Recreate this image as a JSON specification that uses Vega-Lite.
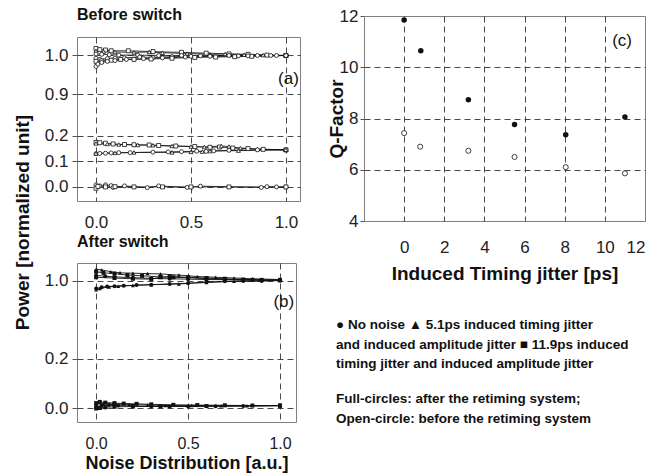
{
"$schema": "https://vega.github.io/schema/vega-lite/v6.json",
"autosize": {"type": "pad"},
"padding": {"left": 12, "top": 6, "right": 0, "bottom": 0},
"spacing": 25,
"config": {
  "font": "Liberation Sans",
  "view": {"stroke": "#808080"},
  "axis": {"domain": false, "labelFont": "Liberation Sans", "labelColor": "#222", "labelFontSize": 17, "labelOverlap": false,
    "titleFont": "Liberation Sans", "titleFontWeight": "bold", "titleFontSize": 19, "titleColor": "#111",
    "grid": true, "gridColor": "#333", "gridDash": [6, 4], "gridWidth": 0.9, "tickColor": "#555"},
  "title": {"font": "Liberation Sans", "color": "#111"}
},
"datasets": {
  "L": [
    {"p":"a","s":"a1","m":"square","x":0,"y":1.018},{"p":"a","s":"a1","m":"square","x":0.02,"y":1.015},{"p":"a","s":"a1","m":"square","x":0.05,"y":1.014},{"p":"a","s":"a1","m":"square","x":0.08,"y":1.012},{"p":"a","s":"a1","m":"square","x":0.17,"y":1.012},{"p":"a","s":"a1","m":"square","x":0.3,"y":1.01},{"p":"a","s":"a1","m":"square","x":0.45,"y":1.008},{"p":"a","s":"a1","m":"square","x":0.58,"y":1.006},{"p":"a","s":"a1","m":"square","x":0.7,"y":1.004},{"p":"a","s":"a1","m":"square","x":0.8,"y":1.003},{"p":"a","s":"a1","m":"square","x":0.9,"y":1.001},{"p":"a","s":"a1","m":"square","x":1,"y":1.0},
    {"p":"a","s":"a2","m":"triangle","x":0,"y":1.012},{"p":"a","s":"a2","m":"triangle","x":0.04,"y":1.01},{"p":"a","s":"a2","m":"triangle","x":0.1,"y":1.009},{"p":"a","s":"a2","m":"triangle","x":0.2,"y":1.008},{"p":"a","s":"a2","m":"triangle","x":0.28,"y":1.009},{"p":"a","s":"a2","m":"triangle","x":0.35,"y":1.007},{"p":"a","s":"a2","m":"triangle","x":0.48,"y":1.005},{"p":"a","s":"a2","m":"triangle","x":0.6,"y":1.003},{"p":"a","s":"a2","m":"triangle","x":0.68,"y":1.004},{"p":"a","s":"a2","m":"triangle","x":0.78,"y":1.002},{"p":"a","s":"a2","m":"triangle","x":0.88,"y":1.001},{"p":"a","s":"a2","m":"triangle","x":1,"y":1.0},
    {"p":"a","s":"a3","m":"circle","x":0,"y":1.004},{"p":"a","s":"a3","m":"circle","x":0.03,"y":1.003},{"p":"a","s":"a3","m":"circle","x":0.07,"y":1.002},{"p":"a","s":"a3","m":"circle","x":0.12,"y":1.001},{"p":"a","s":"a3","m":"circle","x":0.22,"y":1.001},{"p":"a","s":"a3","m":"circle","x":0.33,"y":1.0},{"p":"a","s":"a3","m":"circle","x":0.45,"y":1.0},{"p":"a","s":"a3","m":"circle","x":0.55,"y":0.999},{"p":"a","s":"a3","m":"circle","x":0.7,"y":1.0},{"p":"a","s":"a3","m":"circle","x":0.85,"y":1.0},{"p":"a","s":"a3","m":"circle","x":0.92,"y":1.0},{"p":"a","s":"a3","m":"circle","x":0.95,"y":1.0},{"p":"a","s":"a3","m":"circle","x":1,"y":1.0},
    {"p":"a","s":"a4","m":"circle","x":0,"y":0.993},{"p":"a","s":"a4","m":"circle","x":0.02,"y":0.99},{"p":"a","s":"a4","m":"circle","x":0.06,"y":0.992},{"p":"a","s":"a4","m":"circle","x":0.1,"y":0.993},{"p":"a","s":"a4","m":"circle","x":0.15,"y":0.994},{"p":"a","s":"a4","m":"circle","x":0.23,"y":0.996},{"p":"a","s":"a4","m":"circle","x":0.3,"y":0.995},{"p":"a","s":"a4","m":"circle","x":0.4,"y":0.997},{"p":"a","s":"a4","m":"circle","x":0.5,"y":0.998},{"p":"a","s":"a4","m":"circle","x":0.6,"y":0.999},{"p":"a","s":"a4","m":"circle","x":0.75,"y":0.999},{"p":"a","s":"a4","m":"circle","x":1,"y":1.0},
    {"p":"a","s":"a5","m":"square","x":0,"y":0.985},{"p":"a","s":"a5","m":"square","x":0.03,"y":0.986},{"p":"a","s":"a5","m":"square","x":0.08,"y":0.988},{"p":"a","s":"a5","m":"square","x":0.13,"y":0.99},{"p":"a","s":"a5","m":"square","x":0.2,"y":0.99},{"p":"a","s":"a5","m":"square","x":0.29,"y":0.991},{"p":"a","s":"a5","m":"square","x":0.4,"y":0.993},{"p":"a","s":"a5","m":"square","x":0.52,"y":0.995},{"p":"a","s":"a5","m":"square","x":0.63,"y":0.996},{"p":"a","s":"a5","m":"square","x":0.73,"y":0.997},{"p":"a","s":"a5","m":"square","x":0.82,"y":0.998},{"p":"a","s":"a5","m":"square","x":1,"y":1.0},
    {"p":"a","s":"a6","m":"circle","x":0,"y":0.972},{"p":"a","s":"a6","m":"circle","x":0.01,"y":0.978},{"p":"a","s":"a6","m":"circle","x":0.03,"y":0.982},{"p":"a","s":"a6","m":"circle","x":0.06,"y":0.985},{"p":"a","s":"a6","m":"circle","x":0.1,"y":0.987},{"p":"a","s":"a6","m":"circle","x":0.16,"y":0.99},{"p":"a","s":"a6","m":"circle","x":0.25,"y":0.992},{"p":"a","s":"a6","m":"circle","x":0.35,"y":0.994},{"p":"a","s":"a6","m":"circle","x":0.47,"y":0.996},{"p":"a","s":"a6","m":"circle","x":0.6,"y":0.998},{"p":"a","s":"a6","m":"circle","x":0.8,"y":0.999},{"p":"a","s":"a6","m":"circle","x":1,"y":1.0},
    {"p":"a","s":"a7","m":"square","x":0,"y":0.174},{"p":"a","s":"a7","m":"square","x":0.02,"y":0.173},{"p":"a","s":"a7","m":"square","x":0.05,"y":0.171},{"p":"a","s":"a7","m":"square","x":0.09,"y":0.168},{"p":"a","s":"a7","m":"square","x":0.15,"y":0.166},{"p":"a","s":"a7","m":"square","x":0.2,"y":0.165},{"p":"a","s":"a7","m":"square","x":0.28,"y":0.164},{"p":"a","s":"a7","m":"square","x":0.33,"y":0.162},{"p":"a","s":"a7","m":"square","x":0.42,"y":0.16},{"p":"a","s":"a7","m":"square","x":0.52,"y":0.158},{"p":"a","s":"a7","m":"square","x":0.6,"y":0.155},{"p":"a","s":"a7","m":"square","x":0.65,"y":0.156},{"p":"a","s":"a7","m":"square","x":0.72,"y":0.152},{"p":"a","s":"a7","m":"square","x":0.8,"y":0.15},{"p":"a","s":"a7","m":"square","x":0.88,"y":0.147},{"p":"a","s":"a7","m":"square","x":1,"y":0.145},
    {"p":"a","s":"a8","m":"triangle","x":0,"y":0.17},{"p":"a","s":"a8","m":"triangle","x":0.06,"y":0.168},{"p":"a","s":"a8","m":"triangle","x":0.12,"y":0.166},{"p":"a","s":"a8","m":"triangle","x":0.22,"y":0.164},{"p":"a","s":"a8","m":"triangle","x":0.3,"y":0.163},{"p":"a","s":"a8","m":"triangle","x":0.4,"y":0.16},{"p":"a","s":"a8","m":"triangle","x":0.5,"y":0.158},{"p":"a","s":"a8","m":"triangle","x":0.57,"y":0.156},{"p":"a","s":"a8","m":"triangle","x":0.66,"y":0.16},{"p":"a","s":"a8","m":"triangle","x":0.7,"y":0.158},{"p":"a","s":"a8","m":"triangle","x":0.76,"y":0.152},{"p":"a","s":"a8","m":"triangle","x":0.85,"y":0.148},{"p":"a","s":"a8","m":"triangle","x":1,"y":0.145},
    {"p":"a","s":"a9","m":"circle","x":0,"y":0.13},{"p":"a","s":"a9","m":"circle","x":0.02,"y":0.131},{"p":"a","s":"a9","m":"circle","x":0.05,"y":0.132},{"p":"a","s":"a9","m":"circle","x":0.08,"y":0.133},{"p":"a","s":"a9","m":"circle","x":0.12,"y":0.134},{"p":"a","s":"a9","m":"circle","x":0.18,"y":0.134},{"p":"a","s":"a9","m":"circle","x":0.3,"y":0.136},{"p":"a","s":"a9","m":"circle","x":0.38,"y":0.137},{"p":"a","s":"a9","m":"circle","x":0.45,"y":0.138},{"p":"a","s":"a9","m":"circle","x":0.53,"y":0.14},{"p":"a","s":"a9","m":"circle","x":0.58,"y":0.139},{"p":"a","s":"a9","m":"circle","x":0.62,"y":0.141},{"p":"a","s":"a9","m":"circle","x":0.7,"y":0.143},{"p":"a","s":"a9","m":"circle","x":0.85,"y":0.145},{"p":"a","s":"a9","m":"circle","x":1,"y":0.145},
    {"p":"a","s":"a10","m":"triangle","x":0,"y":0.13},{"p":"a","s":"a10","m":"triangle","x":0.1,"y":0.133},{"p":"a","s":"a10","m":"triangle","x":0.2,"y":0.135},{"p":"a","s":"a10","m":"triangle","x":0.4,"y":0.135},{"p":"a","s":"a10","m":"triangle","x":0.5,"y":0.137},{"p":"a","s":"a10","m":"triangle","x":0.56,"y":0.138},{"p":"a","s":"a10","m":"triangle","x":0.6,"y":0.14},{"p":"a","s":"a10","m":"triangle","x":0.75,"y":0.142},{"p":"a","s":"a10","m":"triangle","x":1,"y":0.145},
    {"p":"a","s":"a11","m":"circle","x":0,"y":0.008},{"p":"a","s":"a11","m":"circle","x":0.02,"y":0.004},{"p":"a","s":"a11","m":"circle","x":0.05,"y":0.008},{"p":"a","s":"a11","m":"circle","x":0.08,"y":0.005},{"p":"a","s":"a11","m":"circle","x":0.09,"y":-0.002},{"p":"a","s":"a11","m":"circle","x":0.15,"y":0.004},{"p":"a","s":"a11","m":"circle","x":0.27,"y":-0.003},{"p":"a","s":"a11","m":"circle","x":0.33,"y":0.004},{"p":"a","s":"a11","m":"circle","x":0.48,"y":-0.002},{"p":"a","s":"a11","m":"circle","x":0.55,"y":0.003},{"p":"a","s":"a11","m":"circle","x":0.87,"y":-0.002},{"p":"a","s":"a11","m":"circle","x":0.9,"y":0.001},{"p":"a","s":"a11","m":"circle","x":0.95,"y":0.0},{"p":"a","s":"a11","m":"circle","x":1,"y":0.0},
    {"p":"a","s":"a12","m":"square","x":0,"y":-0.005},{"p":"a","s":"a12","m":"square","x":0.01,"y":0.002},{"p":"a","s":"a12","m":"square","x":0.05,"y":0.0},{"p":"a","s":"a12","m":"square","x":0.1,"y":0.001},{"p":"a","s":"a12","m":"square","x":0.2,"y":0.0},{"p":"a","s":"a12","m":"square","x":0.35,"y":0.0},{"p":"a","s":"a12","m":"square","x":0.5,"y":0.0},{"p":"a","s":"a12","m":"square","x":0.7,"y":0.0},{"p":"a","s":"a12","m":"square","x":1,"y":0.0},
    {"p":"b","s":"b1","m":"triangle","x":0,"y":1.032},{"p":"b","s":"b1","m":"triangle","x":0.03,"y":1.03},{"p":"b","s":"b1","m":"triangle","x":0.08,"y":1.025},{"p":"b","s":"b1","m":"triangle","x":0.13,"y":1.022},{"p":"b","s":"b1","m":"triangle","x":0.2,"y":1.021},{"p":"b","s":"b1","m":"triangle","x":0.28,"y":1.02},{"p":"b","s":"b1","m":"triangle","x":0.35,"y":1.019},{"p":"b","s":"b1","m":"triangle","x":0.45,"y":1.016},{"p":"b","s":"b1","m":"triangle","x":0.55,"y":1.012},{"p":"b","s":"b1","m":"triangle","x":0.65,"y":1.01},{"p":"b","s":"b1","m":"triangle","x":0.75,"y":1.008},{"p":"b","s":"b1","m":"triangle","x":0.85,"y":1.006},{"p":"b","s":"b1","m":"triangle","x":1,"y":1.004},
    {"p":"b","s":"b2","m":"square","x":0,"y":1.025},{"p":"b","s":"b2","m":"square","x":0.04,"y":1.022},{"p":"b","s":"b2","m":"square","x":0.1,"y":1.02},{"p":"b","s":"b2","m":"square","x":0.17,"y":1.016},{"p":"b","s":"b2","m":"square","x":0.25,"y":1.014},{"p":"b","s":"b2","m":"square","x":0.35,"y":1.011},{"p":"b","s":"b2","m":"square","x":0.42,"y":1.01},{"p":"b","s":"b2","m":"square","x":0.5,"y":1.009},{"p":"b","s":"b2","m":"square","x":0.6,"y":1.008},{"p":"b","s":"b2","m":"square","x":0.7,"y":1.006},{"p":"b","s":"b2","m":"square","x":0.8,"y":1.004},{"p":"b","s":"b2","m":"square","x":0.9,"y":1.003},{"p":"b","s":"b2","m":"square","x":1,"y":1.003},
    {"p":"b","s":"b3","m":"circle","x":0,"y":1.015},{"p":"b","s":"b3","m":"circle","x":0.05,"y":1.013},{"p":"b","s":"b3","m":"circle","x":0.1,"y":1.011},{"p":"b","s":"b3","m":"circle","x":0.2,"y":1.009},{"p":"b","s":"b3","m":"circle","x":0.3,"y":1.007},{"p":"b","s":"b3","m":"circle","x":0.4,"y":1.006},{"p":"b","s":"b3","m":"circle","x":0.5,"y":1.005},{"p":"b","s":"b3","m":"circle","x":0.6,"y":1.004},{"p":"b","s":"b3","m":"circle","x":0.8,"y":1.003},{"p":"b","s":"b3","m":"circle","x":1,"y":1.002},
    {"p":"b","s":"b4","m":"square","x":0,"y":1.01},{"p":"b","s":"b4","m":"square","x":0.1,"y":1.008},{"p":"b","s":"b4","m":"square","x":0.2,"y":1.006},{"p":"b","s":"b4","m":"square","x":0.3,"y":1.005},{"p":"b","s":"b4","m":"square","x":0.35,"y":1.01},{"p":"b","s":"b4","m":"square","x":0.4,"y":1.012},{"p":"b","s":"b4","m":"square","x":0.5,"y":1.01},{"p":"b","s":"b4","m":"square","x":0.6,"y":1.006},{"p":"b","s":"b4","m":"square","x":0.7,"y":1.004},{"p":"b","s":"b4","m":"square","x":0.85,"y":1.003},{"p":"b","s":"b4","m":"square","x":1,"y":1.002},
    {"p":"b","s":"b5","m":"circle","x":0,"y":0.98},{"p":"b","s":"b5","m":"circle","x":0.03,"y":0.983},{"p":"b","s":"b5","m":"circle","x":0.06,"y":0.985},{"p":"b","s":"b5","m":"circle","x":0.1,"y":0.986},{"p":"b","s":"b5","m":"circle","x":0.15,"y":0.987},{"p":"b","s":"b5","m":"circle","x":0.22,"y":0.989},{"p":"b","s":"b5","m":"circle","x":0.3,"y":0.99},{"p":"b","s":"b5","m":"circle","x":0.4,"y":0.992},{"p":"b","s":"b5","m":"circle","x":0.5,"y":0.994},{"p":"b","s":"b5","m":"circle","x":0.6,"y":0.997},{"p":"b","s":"b5","m":"circle","x":0.7,"y":0.999},{"p":"b","s":"b5","m":"circle","x":0.8,"y":1.0},{"p":"b","s":"b5","m":"circle","x":0.9,"y":1.0},{"p":"b","s":"b5","m":"circle","x":1,"y":1.002},
    {"p":"b","s":"b6","m":"triangle","x":0,"y":0.976},{"p":"b","s":"b6","m":"triangle","x":0.02,"y":0.98},{"p":"b","s":"b6","m":"triangle","x":0.07,"y":0.984},{"p":"b","s":"b6","m":"triangle","x":0.12,"y":0.986},{"p":"b","s":"b6","m":"triangle","x":0.2,"y":0.988},{"p":"b","s":"b6","m":"triangle","x":0.3,"y":0.99},{"p":"b","s":"b6","m":"triangle","x":0.45,"y":0.992},{"p":"b","s":"b6","m":"triangle","x":0.6,"y":0.996},{"p":"b","s":"b6","m":"triangle","x":0.75,"y":0.999},{"p":"b","s":"b6","m":"triangle","x":1,"y":1.001},
    {"p":"b","s":"b7","m":"square","x":0,"y":0.02},{"p":"b","s":"b7","m":"square","x":0.02,"y":0.025},{"p":"b","s":"b7","m":"square","x":0.05,"y":0.022},{"p":"b","s":"b7","m":"square","x":0.1,"y":0.02},{"p":"b","s":"b7","m":"square","x":0.15,"y":0.018},{"p":"b","s":"b7","m":"square","x":0.22,"y":0.017},{"p":"b","s":"b7","m":"square","x":0.3,"y":0.015},{"p":"b","s":"b7","m":"square","x":0.42,"y":0.013},{"p":"b","s":"b7","m":"square","x":0.55,"y":0.012},{"p":"b","s":"b7","m":"square","x":0.7,"y":0.011},{"p":"b","s":"b7","m":"square","x":0.85,"y":0.01},{"p":"b","s":"b7","m":"square","x":1,"y":0.01},
    {"p":"b","s":"b8","m":"circle","x":0,"y":0.005},{"p":"b","s":"b8","m":"circle","x":0.03,"y":0.01},{"p":"b","s":"b8","m":"circle","x":0.07,"y":0.012},{"p":"b","s":"b8","m":"circle","x":0.12,"y":0.01},{"p":"b","s":"b8","m":"circle","x":0.2,"y":0.008},{"p":"b","s":"b8","m":"circle","x":0.3,"y":0.006},{"p":"b","s":"b8","m":"circle","x":0.4,"y":0.006},{"p":"b","s":"b8","m":"circle","x":0.5,"y":0.006},{"p":"b","s":"b8","m":"circle","x":0.65,"y":0.007},{"p":"b","s":"b8","m":"circle","x":0.8,"y":0.008},{"p":"b","s":"b8","m":"circle","x":1,"y":0.009},
    {"p":"b","s":"b9","m":"triangle","x":0,"y":0.015},{"p":"b","s":"b9","m":"triangle","x":0.04,"y":0.018},{"p":"b","s":"b9","m":"triangle","x":0.09,"y":0.016},{"p":"b","s":"b9","m":"triangle","x":0.18,"y":0.014},{"p":"b","s":"b9","m":"triangle","x":0.28,"y":0.012},{"p":"b","s":"b9","m":"triangle","x":0.38,"y":0.01},{"p":"b","s":"b9","m":"triangle","x":0.52,"y":0.01},{"p":"b","s":"b9","m":"triangle","x":0.68,"y":0.009},{"p":"b","s":"b9","m":"triangle","x":0.82,"y":0.009},{"p":"b","s":"b9","m":"triangle","x":1,"y":0.01},
    {"p":"b","s":"b10","m":"square","x":0,"y":-0.002},{"p":"b","s":"b10","m":"square","x":0.02,"y":0.0},{"p":"b","s":"b10","m":"square","x":0.05,"y":0.003},{"p":"b","s":"b10","m":"square","x":0.1,"y":0.005},{"p":"b","s":"b10","m":"square","x":0.2,"y":0.006},{"p":"b","s":"b10","m":"square","x":0.35,"y":0.007},{"p":"b","s":"b10","m":"square","x":0.6,"y":0.008},{"p":"b","s":"b10","m":"square","x":1,"y":0.01}
  ],
  "Q": [
    {"t":"after","x":0,"y":11.84},{"t":"after","x":0.83,"y":10.64},{"t":"after","x":3.2,"y":8.73},{"t":"after","x":5.5,"y":7.77},{"t":"after","x":8.05,"y":7.37},{"t":"after","x":11,"y":8.06},
    {"t":"before","x":0,"y":7.43},{"t":"before","x":0.8,"y":6.9},{"t":"before","x":3.2,"y":6.74},{"t":"before","x":5.5,"y":6.5},{"t":"before","x":8.05,"y":6.1},{"t":"before","x":11,"y":5.86}
  ]
},
"hconcat": [
  {
    "bounds": "flush",
    "spacing": 0,
    "vconcat": [
      {"width": 223, "height": 21, "view": {"stroke": null}, "data": {"values": []}, "mark": "point", "encoding": {}},
      {
        "bounds": "flush",
        "spacing": 62,
        "vconcat": [
          {
            "width": 223, "height": 164,
            "title": {"text": "Before switch", "anchor": "start", "frame": "group", "fontSize": 16, "fontWeight": "bold", "offset": 14},
            "data": {"name": "L"},
            "transform": [{"filter": "datum.p == 'a'"}],
            "layer": [
              {"mark": {"type": "line", "color": "#111", "strokeWidth": 0.8},
               "encoding": {
                 "x": {"field": "x", "type": "quantitative", "scale": {"domain": [-0.1, 1.074], "nice": false, "zero": false},
                       "axis": {"values": [0, 0.5, 1], "format": ".1f", "title": null, "ticks": false, "labelPadding": 13}},
                 "y": {"field": "y", "type": "quantitative", "scale": {"domain": [-0.055, 0.25, 0.85, 1.0474], "range": [164, 86, 77, 0], "nice": false, "zero": false},
                       "axis": {"values": [0, 0.1, 0.2, 0.9, 1.0], "format": ".1f", "tickSize": 5, "labelPadding": 4,
                                "title": "Power  [normalized unit]", "titleX": -49, "titleY": 185, "titleBaseline": "alphabetic", "titleAngle": -90, "titleAlign": "center"}},
                 "detail": {"field": "s"}}},
              {"mark": {"type": "point", "filled": true, "fill": "white", "stroke": "#111", "strokeWidth": 0.8, "size": 16, "opacity": 1},
               "encoding": {
                 "x": {"field": "x", "type": "quantitative"},
                 "y": {"field": "y", "type": "quantitative"},
                 "shape": {"field": "m", "type": "nominal", "scale": {"domain": ["circle", "triangle", "square"], "range": ["circle", "triangle-up", "square"]}, "legend": null}}},
              {"data": {"values": [{}]},
               "mark": {"type": "text", "text": "(a)", "align": "right", "baseline": "middle", "fontSize": 17, "color": "#111"},
               "encoding": {"x": {"datum": 1.068}, "y": {"datum": 0.94}}}
            ]
          },
          {
            "width": 219, "height": 159,
            "title": {"text": "After switch", "anchor": "start", "frame": "group", "fontSize": 16, "fontWeight": "bold", "offset": 13},
            "data": {"name": "L"},
            "transform": [{"filter": "datum.p == 'b'"}],
            "layer": [
              {"mark": {"type": "line", "color": "#111", "strokeWidth": 0.9},
               "encoding": {
                 "x": {"field": "x", "type": "quantitative", "scale": {"domain": [-0.104, 1.087], "nice": false, "zero": false},
                       "axis": {"values": [0, 0.5, 1], "format": ".1f", "title": "Noise Distribution [a.u.]", "ticks": false, "labelPadding": 13, "labelFontSize": 16, "titleFontSize": 18, "titlePadding": 3}},
                 "y": {"field": "y", "type": "quantitative", "scale": {"domain": [-0.057, 0.265, 0.846, 1.0486], "range": [159, 80, 75, 0], "nice": false, "zero": false},
                       "axis": {"values": [0, 0.1, 0.2, 0.9, 1.0], "format": ".1f", "tickSize": 5, "labelPadding": 4, "title": null}},
                 "detail": {"field": "s"}}},
              {"mark": {"type": "point", "filled": true, "color": "#111", "size": 16, "opacity": 1},
               "encoding": {
                 "x": {"field": "x", "type": "quantitative"},
                 "y": {"field": "y", "type": "quantitative"},
                 "shape": {"field": "m", "type": "nominal", "scale": {"domain": ["circle", "triangle", "square"], "range": ["circle", "triangle-up", "square"]}, "legend": null}}},
              {"data": {"values": [{}]},
               "mark": {"type": "text", "text": "(b)", "align": "right", "baseline": "middle", "fontSize": 17, "color": "#111"},
               "encoding": {"x": {"datum": 1.077}, "y": {"datum": 0.942}}}
            ]
          }
        ]
      }
    ]
  },
  {
    "width": 281, "height": 205,
    "title": {
      "text": ["● No noise ▲ 5.1ps induced timing jitter", "and induced amplitude jitter  ■ 11.9ps induced", "timing jitter and induced amplitude jitter"],
      "subtitle": ["Full-circles: after the retiming system;", "Open-circle: before the retiming system"],
      "orient": "bottom", "anchor": "start", "frame": "group", "dx": -28, "offset": 35,
      "fontSize": 13.5, "fontWeight": "bold", "color": "#111", "lineHeight": 19.5,
      "subtitleFont": "Liberation Sans", "subtitleFontSize": 13.5, "subtitleFontWeight": "bold", "subtitleColor": "#111",
      "subtitleLineHeight": 20, "subtitlePadding": 21
    },
    "data": {"name": "Q"},
    "layer": [
      {"mark": {"type": "point", "filled": true, "color": "#111", "size": 30, "opacity": 1},
       "transform": [{"filter": "datum.t == 'after'"}],
       "encoding": {
         "x": {"field": "x", "type": "quantitative", "scale": {"domain": [-2, 12], "nice": false, "zero": false},
               "axis": {"values": [0, 2, 4, 6, 8, 10, 12], "title": "Induced Timing jitter [ps]", "ticks": false, "labelPadding": 18, "titlePadding": 9,
                        "gridOpacity": {"condition": {"test": "datum.value == 12", "value": 0}, "value": 1}}},
         "y": {"field": "y", "type": "quantitative", "scale": {"domain": [4, 12], "nice": false, "zero": false},
               "axis": {"values": [4, 6, 8, 10, 12], "title": "Q-Factor", "tickSize": 4, "labelPadding": 2, "titleX": -22, "titleBaseline": "alphabetic",
                        "gridOpacity": {"condition": {"test": "datum.value == 12 || datum.value == 4", "value": 0}, "value": 1}}}}},
      {"mark": {"type": "point", "filled": true, "fill": "white", "stroke": "#111", "strokeWidth": 0.8, "size": 26, "opacity": 1},
       "transform": [{"filter": "datum.t == 'before'"}],
       "encoding": {"x": {"field": "x", "type": "quantitative"}, "y": {"field": "y", "type": "quantitative"}}},
      {"data": {"values": [{}]},
       "mark": {"type": "text", "text": "(c)", "align": "right", "baseline": "middle", "fontSize": 17, "color": "#111"},
       "encoding": {"x": {"datum": 11.35}, "y": {"datum": 11.02}}}
    ]
  }
]
}
